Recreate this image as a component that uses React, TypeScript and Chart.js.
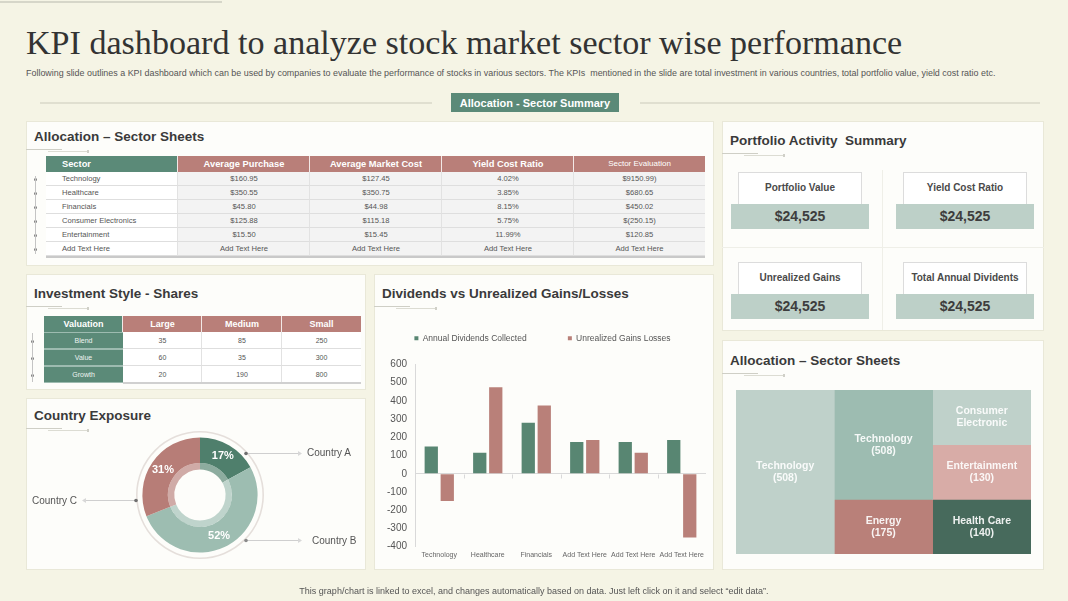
import React, { useEffect, useRef } from "react";
import { Chart, registerables } from "chart.js";

Chart.register(...registerables);

// ---------------- data ----------------
const barCategories = ["Technology", "Healthcare", "Financials", "Add Text Here", "Add Text Here", "Add Text Here"];
const annualDividends = [150, 115, 280, 175, 175, 185];
const unrealizedGains = [-150, 475, 375, 185, 115, -350];
const barSeriesNames = ["Annual Dividends Collected", "Unrealized Gains Losses"];
const yAxisMin = -400;
const yAxisMax = 600;
const yAxisStep = 100;

const countryNames = ["Country A", "Country B", "Country C"];
const countryShares = [17, 52, 31];

const treemapNames = ["Technology", "Technology", "Consumer\nElectronic", "Entertainment", "Energy", "Health Care"];
const treemapValues: (number | null)[] = [508, 508, null, 130, 175, 140];
const treemapColumn = [0, 1, 2, 2, 1, 2];
const treemapExtent = [[0, 3], [1, 3], [2, 3], [1, 2], [0, 1], [0, 1]];

const sectorHeaders = ["Sector", "Average Purchase", "Average Market Cost", "Yield Cost Ratio", "Sector Evaluation"];
const sectorNames = ["Technology", "Healthcare", "Financials", "Consumer Electronics", "Entertainment", "Add Text Here"];
const avgPurchase = ["$160.95", "$350.55", "$45.80", "$125.88", "$15.50", "Add Text Here"];
const avgMarketCost = ["$127.45", "$350.75", "$44.98", "$115.18", "$15.45", "Add Text Here"];
const yieldCostRatio = ["4.02%", "3.85%", "8.15%", "5.75%", "11.99%", "Add Text Here"];
const sectorEvaluation = ["$9150.99)", "$680.65", "$450.02", "$(250.15)", "$120.85", "Add Text Here"];

const styleHeaders = ["Valuation", "Large", "Medium", "Small"];
const styleNames = ["Blend", "Value", "Growth"];
const largeShares = [35, 60, 20];
const mediumShares = [85, 35, 190];
const smallShares = [250, 300, 800];

const kpiLabels = ["Portfolio Value", "Yield Cost Ratio", "Unrealized Gains", "Total Annual Dividents"];
const kpiValues = ["$24,525", "$24,525", "$24,525", "$24,525"];

// ---------------- styles ----------------
const SANS = '"Liberation Sans", Arial, Helvetica, sans-serif';
const SERIF = '"Liberation Serif", "Times New Roman", serif';
const PAGE_BG = "#f5f4e5";
const PANEL_BG = "#fdfdfa";
const PANEL_BORDER = "#e9e8d8";
const GREEN = "#588672";
const PINK = "#b98079";
const HEAD_GREEN = "#5b8a78";
const HEAD_PINK = "#b97f79";
const KPI_STRIP = "#bdd0c8";
const donutColors = ["#4f7f6c", "#9dbdb1", "#b77d77"];
const donutInner = ["#8dac9f", "#bfd4cc", "#d0aba7"];
const treemapColors = ["#bfd1ca", "#9dbcb1", "#bfd1ca", "#d8aca7", "#b98079", "#476a5c"];

type TxtProps = {
  x: number; y: number; w?: number; size?: number; bold?: boolean; color?: string;
  align?: "left" | "center" | "right"; family?: string; children: React.ReactNode; style?: React.CSSProperties;
};
function Txt({ x, y, w, size = 10, bold = false, color = "#444", align = "left", family = SANS, children, style }: TxtProps) {
  return (
    <div
      style={{
        position: "absolute", left: x, top: y - size, width: w, height: size * 2, lineHeight: `${size * 2}px`,
        fontSize: size, fontWeight: bold ? 700 : 400, color, textAlign: align, fontFamily: family,
        whiteSpace: "pre", ...style,
      }}
    >
      {children}
    </div>
  );
}

function Rect({ x, y, w, h, bg, style }: { x: number; y: number; w: number; h: number; bg?: string; style?: React.CSSProperties }) {
  return <div style={{ position: "absolute", left: x, top: y, width: w, height: h, background: bg, boxSizing: "border-box", ...style }} />;
}

function Panel({ x, y, w, h, title, ty }: { x: number; y: number; w: number; h: number; title: string; ty: number }) {
  return (
    <>
      <Rect x={x} y={y} w={w} h={h} bg={PANEL_BG} style={{ border: `1px solid ${PANEL_BORDER}` }} />
      <Txt x={x + 8} y={ty} size={13.5} bold color="#3a3a3a">{title}</Txt>
      <Rect x={x} y={ty + 13} w={36} h={1} bg="#cfcfc6" />
      <Rect x={x + 22} y={ty + 15} w={40} h={1} bg="#dcdcd3" />
      <Rect x={x + 61} y={ty + 14} w={2} h={3} bg="#d0d0c8" />
    </>
  );
}

// ---------------- bar chart ----------------
function DividendsChart() {
  const ref = useRef<HTMLCanvasElement>(null);
  useEffect(() => {
    const zeroTicks = {
      id: "zeroTicks",
      afterDraw(chart: any) {
        const xs = chart.scales.x;
        const ys = chart.scales.y;
        const y0 = Math.round(ys.getPixelForValue(0)) + 0.5;
        const ctx = chart.ctx;
        ctx.save();
        ctx.strokeStyle = "#d9d9d9";
        ctx.lineWidth = 1;
        for (let i = 1; i < barCategories.length; i++) {
          const px = Math.round((xs.getPixelForTick(i - 1) + xs.getPixelForTick(i)) / 2) + 0.5;
          ctx.beginPath();
          ctx.moveTo(px, y0);
          ctx.lineTo(px, y0 + 4);
          ctx.stroke();
        }
        ctx.restore();
      },
    };
    const legendGap = {
      id: "legendGap",
      afterInit(chart: any) {
        const lg = chart.legend;
        if (!lg || lg.__gapPatched) return;
        const fit = lg.fit;
        lg.fit = function () {
          fit.call(this);
          this.height += 12;
        };
        lg.__gapPatched = true;
      },
    };
    const chart = new Chart(ref.current!, {
      type: "bar",
      data: {
        labels: barCategories,
        datasets: [
          { label: barSeriesNames[0], data: annualDividends, backgroundColor: GREEN, categoryPercentage: 0.66, barPercentage: 0.83 },
          { label: barSeriesNames[1], data: unrealizedGains, backgroundColor: PINK, categoryPercentage: 0.66, barPercentage: 0.83 },
        ],
      },
      options: {
        animation: false,
        responsive: false,
        devicePixelRatio: 1,
        events: [],
        layout: { padding: { left: 0, right: 6, top: 0, bottom: 0 } },
        plugins: {
          legend: {
            position: "top",
            labels: {
              boxWidth: 4,
              boxHeight: 4,
              padding: 20,
              color: "#555",
              font: { size: 8.5, family: SANS },
              generateLabels: (c: any) =>
                (Chart.defaults.plugins.legend.labels.generateLabels as any)(c).map((l: any, i: number) =>
                  i === 0 ? { ...l, text: l.text + "\u00A0".repeat(9) } : l
                ),
            },
          },
          tooltip: { enabled: false },
        },
        scales: {
          x: {
            grid: { display: false, drawTicks: false },
            border: { display: false },
            ticks: { color: "#666", font: { size: 7, family: SANS }, maxRotation: 0, autoSkip: false, padding: 4 },
          },
          y: {
            min: yAxisMin,
            max: yAxisMax,
            ticks: { stepSize: yAxisStep, color: "#555", font: { size: 10, family: SANS }, padding: 8 },
            grid: {
              drawTicks: false,
              color: (c: any) => (c.tick && c.tick.value === 0 ? "#d9d9d9" : "rgba(0,0,0,0)"),
            },
            border: { display: true, color: "#d9d9d9" },
          },
        },
      } as any,
      plugins: [zeroTicks, legendGap],
    });
    return () => chart.destroy();
  }, []);
  return <canvas ref={ref} width={333} height={249} style={{ position: "absolute", left: 379, top: 314 }} />;
}

// ---------------- doughnut ----------------
function CountryDonut() {
  const ref = useRef<HTMLCanvasElement>(null);
  useEffect(() => {
    const pctLabels = {
      id: "pctLabels",
      afterDatasetsDraw(chart: any) {
        const meta = chart.getDatasetMeta(2);
        const ctx = chart.ctx;
        ctx.save();
        ctx.fillStyle = "#ffffff";
        ctx.font = `bold 11px ${SANS}`;
        ctx.textAlign = "center";
        ctx.textBaseline = "middle";
        meta.data.forEach((arc: any, i: number) => {
          const p = arc.tooltipPosition(true);
          ctx.fillText(`${countryShares[i]}%`, p.x, p.y);
        });
        ctx.restore();
      },
    };
    const chart = new Chart(ref.current!, {
      type: "doughnut",
      data: {
        labels: countryNames,
        datasets: [
          { data: [1], backgroundColor: ["#e5dfdb"], borderWidth: 0, weight: 1.5 } as any,
          { data: [1], backgroundColor: ["rgba(0,0,0,0)"], borderWidth: 0, weight: 4.5 } as any,
          { data: countryShares, backgroundColor: donutColors, borderWidth: 0, weight: 24 } as any,
          { data: countryShares, backgroundColor: donutInner, borderWidth: 0, weight: 6 } as any,
        ],
      },
      options: {
        animation: false,
        responsive: false,
        devicePixelRatio: 1,
        events: [],
        radius: 64,
        cutout: 28,
        layout: { padding: 0 },
        plugins: { legend: { display: false }, tooltip: { enabled: false } },
      } as any,
      plugins: [pctLabels],
    });
    return () => chart.destroy();
  }, []);
  return <canvas ref={ref} width={140} height={140} style={{ position: "absolute", left: 130, top: 425 }} />;
}

// ---------------- treemap (floating bars) ----------------
function SectorTreemap() {
  const ref = useRef<HTMLCanvasElement>(null);
  useEffect(() => {
    const cellLabels = {
      id: "cellLabels",
      afterDatasetsDraw(chart: any) {
        const ctx = chart.ctx;
        ctx.save();
        ctx.fillStyle = "rgba(255,255,255,0.9)";
        ctx.font = `bold 10.5px ${SANS}`;
        ctx.textAlign = "center";
        ctx.textBaseline = "middle";
        treemapNames.forEach((name, i) => {
          const el: any = chart.getDatasetMeta(i).data[treemapColumn[i]];
          if (!el) return;
          const { x, y, base } = el.getProps(["x", "y", "base"], true);
          const lines = name.split("\n");
          if (treemapValues[i] !== null) lines.push(`(${treemapValues[i]})`);
          const cy = (y + base) / 2;
          const lh = 12;
          lines.forEach((ln, k) => ctx.fillText(ln, x, cy + (k - (lines.length - 1) / 2) * lh));
        });
        ctx.restore();
      },
    };
    const chart = new Chart(ref.current!, {
      type: "bar",
      data: {
        labels: ["c1", "c2", "c3"],
        datasets: treemapNames.map((name, i) => ({
          label: name,
          data: [0, 1, 2].map((c) => (c === treemapColumn[i] ? treemapExtent[i] : null)) as any,
          backgroundColor: treemapColors[i],
          borderWidth: 0,
          grouped: false,
          barPercentage: 1,
          categoryPercentage: 1,
        })),
      },
      options: {
        animation: false,
        responsive: false,
        devicePixelRatio: 1,
        events: [],
        layout: { padding: 0 },
        plugins: { legend: { display: false }, tooltip: { enabled: false } },
        scales: {
          x: { display: false },
          y: { display: false, min: 0, max: 3 },
        },
      } as any,
      plugins: [cellLabels],
    });
    return () => chart.destroy();
  }, []);
  return <canvas ref={ref} width={295} height={164} style={{ position: "absolute", left: 736, top: 390 }} />;
}

// ---------------- tables ----------------
function SectorTable() {
  const left = 46, top = 156, headH = 16, rowH = 14;
  const colW = [132, 132, 132, 132, 131];
  const cols = [sectorNames, avgPurchase, avgMarketCost, yieldCostRatio, sectorEvaluation];
  const xs = colW.map((_, i) => left + colW.slice(0, i).reduce((a, b) => a + b, 0));
  const total = colW.reduce((a, b) => a + b, 0);
  const out: React.ReactNode[] = [];
  sectorHeaders.forEach((h, i) => {
    out.push(<Rect key={`h${i}`} x={xs[i]} y={top} w={colW[i]} h={headH} bg={i === 0 ? HEAD_GREEN : HEAD_PINK} style={{ borderRight: i < 4 ? "1px solid #f3e9e7" : undefined }} />);
    out.push(
      <Txt key={`ht${i}`} x={i === 0 ? xs[i] + 16 : xs[i]} w={i === 0 ? undefined : colW[i]} y={top + headH / 2} size={i === 4 ? 8 : 9.3} bold={i !== 4} color="#fff" align={i === 0 ? "left" : "center"}>
        {h}
      </Txt>
    );
  });
  sectorNames.forEach((_, r) => {
    const y = top + headH + r * rowH;
    cols.forEach((col, c) => {
      out.push(<Rect key={`c${r}-${c}`} x={xs[c]} y={y} w={colW[c]} h={rowH} bg={c === 0 ? "#ffffff" : "#f3f3f3"} style={{ borderBottom: "1px solid #dedede", borderRight: c < 4 ? "1px solid #e2e2e2" : undefined }} />);
      out.push(
        <Txt key={`t${r}-${c}`} x={c === 0 ? xs[c] + 16 : xs[c]} w={c === 0 ? undefined : colW[c]} y={y + rowH / 2} size={7.6} color="#555" align={c === 0 ? "left" : "center"}>
          {col[r]}
        </Txt>
      );
    });
    out.push(<Rect key={`d${r}`} x={34} y={y + rowH / 2 - 1} w={3} h={3} bg="#7a7a7a" style={{ borderRadius: 2 }} />);
  });
  out.push(<Rect key="vl" x={35} y={top + headH + 4} w={1} h={rowH * 6 - 6} bg="#c4c4c4" />);
  out.push(<Rect key="bb" x={left} y={top + headH + rowH * 6} w={total} h={2} bg="#c9c9c9" />);
  return <>{out}</>;
}

function StyleTable() {
  const left = 44, top = 316, headH = 16, rowH = 17;
  const colW = [79, 79, 80, 79];
  const cols = [styleNames, largeShares, mediumShares, smallShares];
  const xs = colW.map((_, i) => left + colW.slice(0, i).reduce((a, b) => a + b, 0));
  const out: React.ReactNode[] = [];
  styleHeaders.forEach((h, i) => {
    out.push(<Rect key={`h${i}`} x={xs[i]} y={top} w={colW[i]} h={headH} bg={i === 0 ? HEAD_GREEN : HEAD_PINK} style={{ borderRight: i < 3 ? "1px solid #f3e9e7" : undefined }} />);
    out.push(<Txt key={`ht${i}`} x={xs[i]} w={colW[i]} y={top + headH / 2} size={9} bold color="#fff" align="center">{h}</Txt>);
  });
  styleNames.forEach((_, r) => {
    const y = top + headH + r * rowH;
    cols.forEach((col, c) => {
      out.push(
        <Rect key={`c${r}-${c}`} x={xs[c]} y={y} w={colW[c]} h={rowH} bg={c === 0 ? HEAD_GREEN : "#ffffff"}
          style={{ borderBottom: c === 0 ? "1px solid #9dbbb0" : "1px solid #dedede", borderRight: c > 0 && c < 3 ? "1px solid #e2e2e2" : undefined, borderTop: c === 0 ? "1px solid #9dbbb0" : undefined }} />
      );
      out.push(<Txt key={`t${r}-${c}`} x={xs[c]} w={colW[c]} y={y + rowH / 2} size={7} color={c === 0 ? "#eef4f1" : "#555"} align="center">{String(col[r])}</Txt>);
    });
    out.push(<Rect key={`d${r}`} x={31} y={y + rowH / 2 - 1} w={3} h={3} bg="#7a7a7a" style={{ borderRadius: 2 }} />);
  });
  out.push(<Rect key="vl" x={32} y={top + headH + 1} w={1} h={rowH * 3 - 2} bg="#c4c4c4" />);
  out.push(<Rect key="bb" x={left + colW[0]} y={top + headH + rowH * 3 - 1} w={colW[1] + colW[2] + colW[3]} h={2} bg="#d0d0d0" />);
  return <>{out}</>;
}

function KpiCards() {
  const pos = [
    [731, 172],
    [896, 172],
    [731, 262],
    [896, 262],
  ];
  return (
    <>
      <Rect x={882} y={170} w={1} h={160} bg="#efefe8" />
      <Rect x={722} y={247} w={322} h={1} bg="#efefe8" />
      {kpiLabels.map((lab, i) => {
        const [x, y] = pos[i];
        return (
          <React.Fragment key={i}>
            <Rect x={x + 7} y={y} w={124} h={33} bg="#ffffff" style={{ border: "1px solid #dcdcdc", borderBottom: "none" }} />
            <Txt x={x + 7} w={124} y={y + 16} size={10} bold color="#4a4a4a" align="center">{lab}</Txt>
            <Rect x={x} y={y + 32} w={138} h={25} bg={KPI_STRIP} />
            <Txt x={x} w={138} y={y + 44} size={14} bold color="#3d3d3d" align="center">{kpiValues[i]}</Txt>
          </React.Fragment>
        );
      })}
    </>
  );
}

function Callouts() {
  const stroke = "#cfcfcf";
  return (
    <svg width={1068} height={601} style={{ position: "absolute", left: 0, top: 0, pointerEvents: "none" }}>
      <line x1={246} y1={453.5} x2={298} y2={453.5} stroke={stroke} />
      <circle cx={246} cy={453.5} r={1.8} fill="#6f6f6f" />
      <path d="M298,451 L302,453.5 L298,456 Z" fill="#d8d8d8" />
      <line x1={246} y1={540.5} x2={298} y2={540.5} stroke={stroke} />
      <circle cx={246} cy={540.5} r={1.8} fill="#8a8a8a" />
      <path d="M298,538 L302,540.5 L298,543 Z" fill="#d8d8d8" />
      <line x1={86} y1={500.5} x2={135} y2={500.5} stroke={stroke} />
      <circle cx={136} cy={500.5} r={1.8} fill="#6f6f6f" />
      <path d="M86,498 L82,500.5 L86,503 Z" fill="#d8d8d8" />
    </svg>
  );
}

export default function App() {
  return (
    <div style={{ position: "fixed", left: 0, top: 0, width: 1068, height: 601, background: PAGE_BG, overflow: "hidden", fontFamily: SANS }}>
      <Rect x={0} y={1} w={222} h={2} bg="#d6d6c9" />
      <div style={{ position: "absolute", left: 26, top: 25.5, fontFamily: SERIF, fontSize: 34.1, lineHeight: "34.1px", color: "#333", whiteSpace: "nowrap" }}>
        KPI dashboard to analyze stock market sector wise performance
      </div>
      <Txt x={26} y={74} size={8.93} color="#555">
        Following slide outlines a KPI dashboard which can be used by companies to evaluate the performance of stocks in various sectors. The KPIs  mentioned in the slide are total investment in various countries, total portfolio value, yield cost ratio etc.
      </Txt>
      <Rect x={40} y={102} w={392} h={2} bg="#e0dfd0" />
      <Rect x={640} y={102} w={400} h={2} bg="#e0dfd0" />
      <Rect x={451} y={93} w={168} h={19} bg={HEAD_GREEN} />
      <Txt x={451} w={168} y={102.5} size={11} bold color="#fff" align="center">Allocation - Sector Summary</Txt>

      <Panel x={26} y={121} w={688} h={145} ty={136} title="Allocation – Sector Sheets" />
      <Panel x={722} y={121} w={322} h={210} ty={140} title="Portfolio Activity  Summary" />
      <Panel x={26} y={274} w={340} h={116} ty={293} title="Investment Style - Shares" />
      <Panel x={374} y={274} w={340} h={296} ty={293} title="Dividends vs Unrealized Gains/Losses" />
      <Panel x={26} y={398} w={340} h={172} ty={415} title="Country Exposure" />
      <Panel x={722} y={340} w={322} h={230} ty={360} title="Allocation – Sector Sheets" />

      <SectorTable />
      <StyleTable />
      <KpiCards />
      <DividendsChart />
      <CountryDonut />
      <Callouts />
      <Txt x={307} y={453} size={10} color="#555">{countryNames[0]}</Txt>
      <Txt x={312} y={541} size={10} color="#555">{countryNames[1]}</Txt>
      <Txt x={32} y={501} size={10} color="#555">{countryNames[2]}</Txt>
      <SectorTreemap />

      <Txt x={0} w={1068} y={591} size={9} color="#555" align="center">
        This graph/chart is linked to excel, and changes automatically based on data. Just left click on it and select “edit data”.
      </Txt>
    </div>
  );
}
